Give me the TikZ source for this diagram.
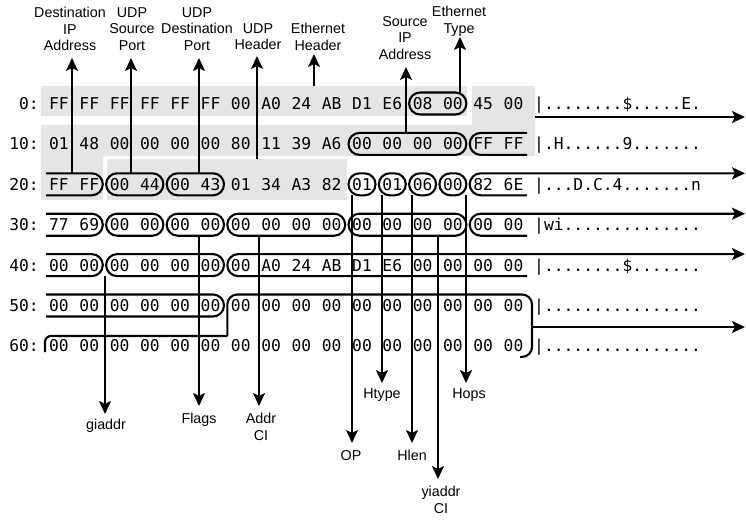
\documentclass[tikz,border=0pt]{standalone}
\usepackage{fontspec}
\newfontfamily\labfont{Liberation Sans}
\newfontfamily\hexfont{DejaVu Sans Mono}
\usetikzlibrary{arrows.meta}
\definecolor{bandgray}{RGB}{229,229,229}
\begin{document}
\begin{tikzpicture}[x=1pt,y=-1pt,
  byte/.style={font=\hexfont\fontsize{16.3}{16}\selectfont, inner sep=0pt, anchor=base},
  lab/.style={font=\labfont\fontsize{14.3}{16.5}\selectfont, align=center, inner sep=0pt, anchor=north},
  boxline/.style={line width=2.1pt},
  arr/.style={line width=2.1pt, -{Stealth[length=13pt,width=12pt,inset=3pt]}}]
\useasboundingbox (0,0) rectangle (746,527);

% gray bands
\fill[bandgray] (41,86) rectangle (467,116);
\fill[bandgray] (472,86) -- (535,86) -- (535,156) -- (103,156) -- (103,200) -- (41,200) -- (41,125) -- (472,125) -- cycle;
\fill[bandgray] (107,159) rectangle (347,200);

% row labels
\node[byte, anchor=base east] (l0) at (39,109.5) {0:};
\node[byte, anchor=base east] (l1) at (39,149.9) {10:};
\node[byte, anchor=base east] (l2) at (39,190.3) {20:};
\node[byte, anchor=base east] (l3) at (39,230.7) {30:};
\node[byte, anchor=base east] (l4) at (39,271.1) {40:};
\node[byte, anchor=base east] (l5) at (39,311.5) {50:};
\node[byte, anchor=base east] (l6) at (39,351.9) {60:};

% bytes
\foreach \v [count=\c from 0] in {FF,FF,FF,FF,FF,FF,00,A0,24,AB,D1,E6,08,00,45,00}
  \node[byte] (r0-\c) at ({59+30.3*\c},109.5) {\v};
\foreach \v [count=\c from 0] in {01,48,00,00,00,00,80,11,39,A6,00,00,00,00,FF,FF}
  \node[byte] (r1-\c) at ({59+30.3*\c},149.9) {\v};
\foreach \v [count=\c from 0] in {FF,FF,00,44,00,43,01,34,A3,82,01,01,06,00,82,6E}
  \node[byte] (r2-\c) at ({59+30.3*\c},190.3) {\v};
\foreach \v [count=\c from 0] in {77,69,00,00,00,00,00,00,00,00,00,00,00,00,00,00}
  \node[byte] (r3-\c) at ({59+30.3*\c},230.7) {\v};
\foreach \v [count=\c from 0] in {00,00,00,00,00,00,00,A0,24,AB,D1,E6,00,00,00,00}
  \node[byte] (r4-\c) at ({59+30.3*\c},271.1) {\v};
\foreach \v [count=\c from 0] in {00,00,00,00,00,00,00,00,00,00,00,00,00,00,00,00}
  \node[byte] (r5-\c) at ({59+30.3*\c},311.5) {\v};
\foreach \v [count=\c from 0] in {00,00,00,00,00,00,00,00,00,00,00,00,00,00,00,00}
  \node[byte] (r6-\c) at ({59+30.3*\c},351.9) {\v};

% ascii
\node[byte, anchor=base west] (a0) at (534,109.5) {|........\$.....E.};
\node[byte, anchor=base west] (a1) at (534,149.9) {|.H......9.......};
\node[byte, anchor=base west] (a2) at (534,190.3) {|...D.C.4.......n};
\node[byte, anchor=base west] (a3) at (534,230.7) {|wi..............};
\node[byte, anchor=base west] (a4) at (534,271.1) {|........\$.......};
\node[byte, anchor=base west] (a5) at (534,311.5) {|................};
\node[byte, anchor=base west] (a6) at (534,351.9) {|................};

% pills (closed)
\begin{scope}[boxline, rounded corners=11pt]
\draw (409.1,92.5) rectangle (466.4,114.5);
\draw (348.5,132.9) rectangle (466.4,154.9);
\draw (106.1,173.3) rectangle (163.4,195.3);
\draw (166.7,173.3) rectangle (224,195.3);
\draw (348.5,173.3) rectangle (375.5,195.3);
\draw (378.8,173.3) rectangle (405.8,195.3);
\draw (409.1,173.3) rectangle (436.1,195.3);
\draw (439.4,173.3) rectangle (466.4,195.3);
\draw (106.1,213.7) rectangle (163.4,235.7);
\draw (166.7,213.7) rectangle (224,235.7);
\draw (227.3,213.7) rectangle (345.2,235.7);
\draw (348.5,213.7) rectangle (466.4,235.7);
\draw (106.1,254.1) rectangle (224,276.1);
% open-right
\draw (527,154.9) -- (469.7,154.9) -- (469.7,132.9) -- (527,132.9);
% open-left
\draw (46,173.3) -- (102.8,173.3) -- (102.8,195.3) -- (46,195.3);
\draw (46,213.7) -- (102.8,213.7) -- (102.8,235.7) -- (46,235.7);
\draw (46,254.1) -- (102.8,254.1) -- (102.8,276.1) -- (46,276.1);
\draw (46,294.5) -- (224,294.5) -- (224,316.5) -- (46,316.5);
\end{scope}

% open-right boxes continuing as arrows
\coordinate (e2) at (745,173.3);
\coordinate (e3) at (745,213.7);
\coordinate (e4) at (745,254.1);
\draw[arr, rounded corners=11pt] (527,195.3) -- (469.7,195.3) -- (469.7,173.3) -- (e2);
\draw[arr, rounded corners=11pt] (527,235.7) -- (469.7,235.7) -- (469.7,213.7) -- (e3);
\draw[arr, rounded corners=11pt] (527,276.1) -- (227.3,276.1) -- (227.3,254.1) -- (e4);

% sname bracket
\draw[boxline, rounded corners=6pt] (45,352) -- (45,336) -- (227.3,336);
\draw[boxline, rounded corners=10pt] (227.3,336) -- (227.3,294.5) -- (532,294.5) -- (532,356.9) -- (520,356.9);

% other right arrows
\coordinate (s1) at (535,117);
\coordinate (e1) at (745,117);
\draw[arr] (s1) -- (e1);
\coordinate (s5) at (532,327);
\coordinate (e5) at (745,327);
\draw[arr] (s5) -- (e5);

% top labels
\node[lab] (tl1) at (70,7) {Destination\\IP\\Address};
\node[lab] (tl2) at (132,7) {UDP\\Source\\Port};
\node[lab] (tl3) at (197,7) {UDP\\Destination\\Port};
\node[lab] (tl4) at (258,23) {UDP\\Header};
\node[lab] (tl5) at (318,23) {Ethernet\\Header};
\node[lab] (tl6) at (405,16) {Source\\IP\\Address};
\node[lab] (tl7) at (459,6) {Ethernet\\Type};

% top arrows
\coordinate (ts1) at (72,173.3);  \coordinate (tt1) at (72,58);
\coordinate (ts2) at (131,173.3); \coordinate (tt2) at (131,58);
\coordinate (ts3) at (199,173.3); \coordinate (tt3) at (199,58);
\coordinate (ts4) at (257,159);   \coordinate (tt4) at (257,56);
\coordinate (ts5) at (314,86);    \coordinate (tt5) at (314,54);
\coordinate (ts6) at (406,132.9); \coordinate (tt6) at (406,67);
\coordinate (ts7) at (460,92.5);  \coordinate (tt7) at (460,37);
\foreach \i in {1,...,7} \draw[arr] (ts\i) -- (tt\i);

% bottom labels
\node[lab] (bl1) at (106,419) {giaddr};
\node[lab] (bl2) at (199,413) {Flags};
\node[lab] (bl3) at (261,413) {Addr\\CI};
\node[lab] (bl4) at (351,450) {OP};
\node[lab] (bl5) at (382,388) {Htype};
\node[lab] (bl6) at (412,450) {Hlen};
\node[lab] (bl7) at (441,486) {yiaddr\\CI};
\node[lab] (bl8) at (469,388) {Hops};

% bottom arrows
\coordinate (bs1) at (105,276.1); \coordinate (bt1) at (105,414);
\coordinate (bs2) at (199,235.7); \coordinate (bt2) at (199,406);
\coordinate (bs3) at (259,235.7); \coordinate (bt3) at (259,406);
\coordinate (bs4) at (352,195.3); \coordinate (bt4) at (352,443);
\coordinate (bs5) at (382,195.3); \coordinate (bt5) at (382,383);
\coordinate (bs6) at (412,195.3); \coordinate (bt6) at (412,443);
\coordinate (bs7) at (438,235.7); \coordinate (bt7) at (438,479);
\coordinate (bs8) at (466,195.3); \coordinate (bt8) at (466,383);
\foreach \i in {1,...,8} \draw[arr] (bs\i) -- (bt\i);
\end{tikzpicture}
\end{document}
